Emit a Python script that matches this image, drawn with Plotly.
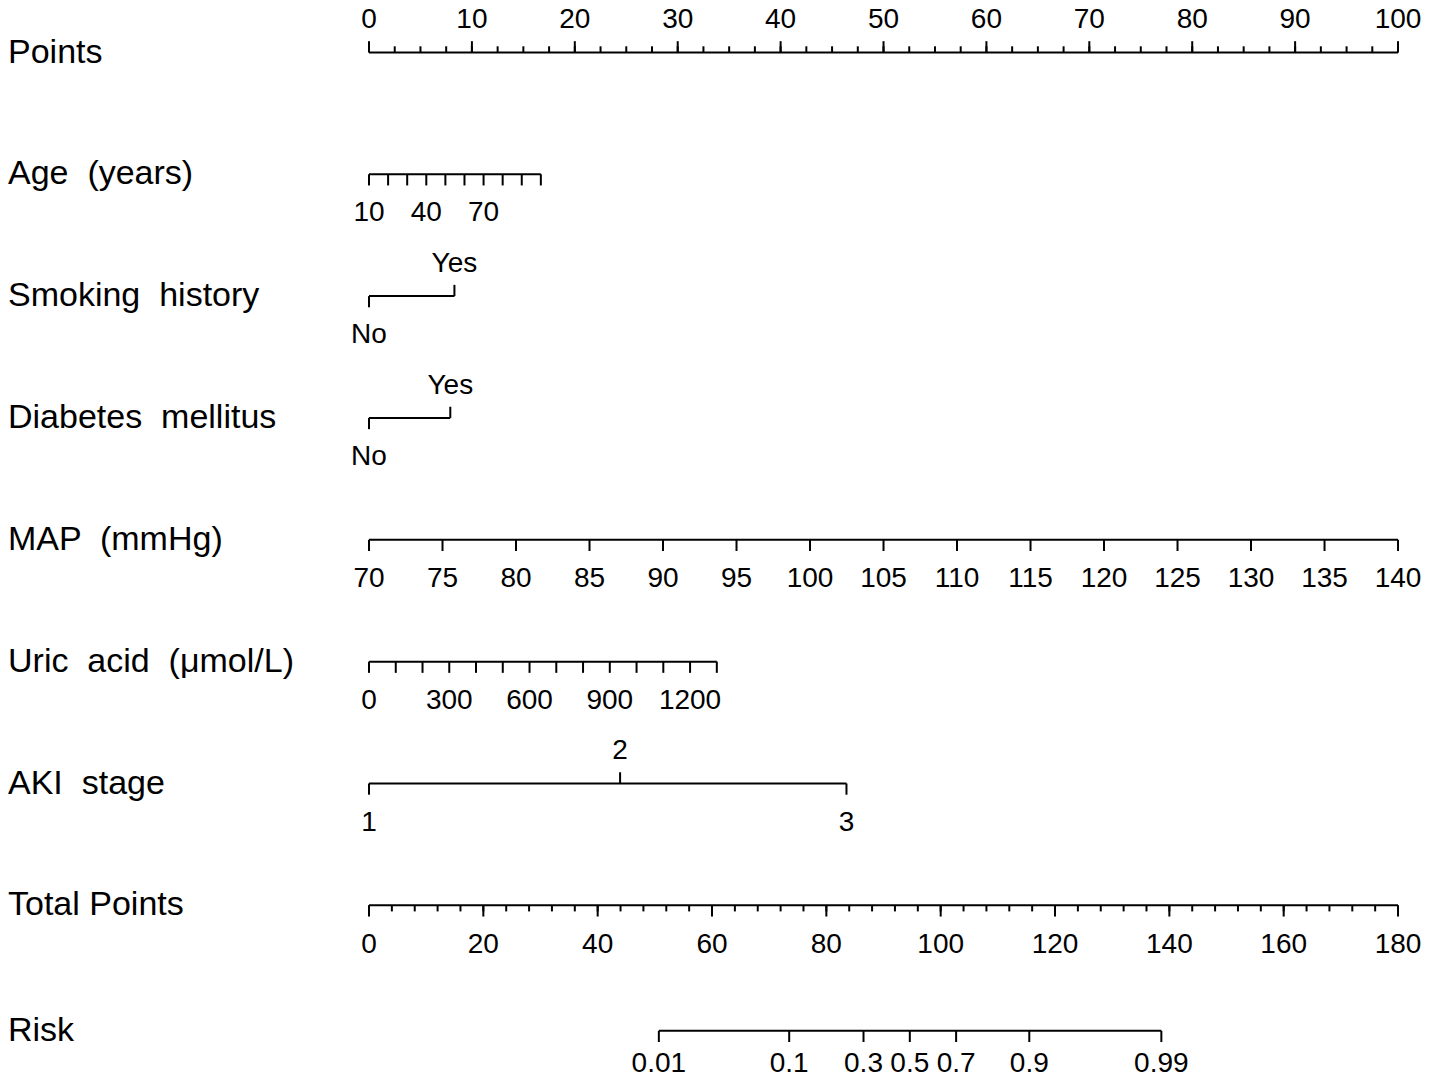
import plotly.graph_objects as go

# ---- data ----
ROW_LABELS = ["Points", "Age  (years)", "Smoking  history", "Diabetes  mellitus",
              "MAP  (mmHg)", "Uric  acid  (μmol/L)", "AKI  stage", "Total Points", "Risk"]

POINTS_TICKS = [0, 10, 20, 30, 40, 50, 60, 70, 80, 90, 100]
POINTS_MINOR_STEP = 2.5

AGE_TICKS = [10, 20, 30, 40, 50, 60, 70, 80, 90, 100]
AGE_LABELED = [10, 40, 70]
AGE_SPAN = [10, 100]
AGE_SPAN_POINTS = [0, 16.7]

SMOKING_LEVELS = ["No", "Yes"]
SMOKING_POINTS = [0, 8.3]

DIABETES_LEVELS = ["No", "Yes"]
DIABETES_POINTS = [0, 7.9]

MAP_TICKS = [70, 75, 80, 85, 90, 95, 100, 105, 110, 115, 120, 125, 130, 135, 140]
MAP_SPAN = [70, 140]
MAP_SPAN_POINTS = [0, 100]

URIC_TICKS = [0, 100, 200, 300, 400, 500, 600, 700, 800, 900, 1000, 1100, 1200, 1300]
URIC_LABELED = [0, 300, 600, 900, 1200]
URIC_SPAN = [0, 1300]
URIC_SPAN_POINTS = [0, 33.8]

AKI_LEVELS = ["1", "2", "3"]
AKI_POINTS = [0, 24.4, 46.4]

TOTAL_TICKS = [0, 20, 40, 60, 80, 100, 120, 140, 160, 180]
TOTAL_MINOR_STEP = 4
TOTAL_SPAN = [0, 180]
TOTAL_SPAN_POINTS = [0, 100]

RISK_LABELS = ["0.01", "0.1", "0.3", "0.5", "0.7", "0.9", "0.99"]
RISK_TOTAL_POINTS = [50.7, 73.5, 86.5, 94.6, 102.7, 115.5, 138.6]

# ---- layout constants ----
W, H = 1429, 1082
P_LO, P_HI = -35.86, 103.01        # points-axis range across the full width
Y_RANGE = [8.45, -0.43]            # rows, top to bottom
ROW_Y = [0, 1, 2, 3, 4, 5, 6, 7, 8.03]
MAJOR = 0.092
MINOR = 0.05
ABOVE = 0.255
BELOW = 0.33
BELOW_RISK = 0.28
FONT = "Liberation Sans, Arial, Helvetica, sans-serif"
TICK_SIZE = 28
LABEL_SIZE = 34
LINE = dict(color="black", width=2)


def axis_range(span, span_points):
    slope = (span[1] - span[0]) / (span_points[1] - span_points[0])
    return [span[0] + (P_LO - span_points[0]) * slope,
            span[0] + (P_HI - span_points[0]) * slope]


def add_line(fig, xref, row, lo, hi):
    fig.add_trace(go.Scatter(x=[lo, hi], y=[row, row], mode="lines", line=LINE,
                             xaxis=xref, hoverinfo="skip", cliponaxis=False))


def add_ticks(fig, xref, row, xs, length, up):
    sx, sy = [], []
    for x in xs:
        sx += [x, x, None]
        sy += [row, row - length if up else row + length, None]
    fig.add_trace(go.Scatter(x=sx, y=sy, mode="lines", line=LINE,
                             xaxis=xref, hoverinfo="skip", cliponaxis=False))


def add_labels(fig, xref, row, xs, texts, up, below=BELOW):
    fig.add_trace(go.Scatter(x=xs, y=[row - ABOVE if up else row + below] * len(xs),
                             mode="text", text=texts, textposition="middle center",
                             textfont=dict(family=FONT, size=TICK_SIZE, color="black"),
                             xaxis=xref, hoverinfo="skip", cliponaxis=False))


def steps(lo, hi, step):
    n = int(round((hi - lo) / step))
    return [lo + i * step for i in range(n + 1)]


fig = go.Figure()

# Points
r = ROW_Y[0]
add_line(fig, "x", r, POINTS_TICKS[0], POINTS_TICKS[-1])
add_ticks(fig, "x", r, steps(POINTS_TICKS[0], POINTS_TICKS[-1], POINTS_MINOR_STEP), MINOR, True)
add_ticks(fig, "x", r, POINTS_TICKS, MAJOR, True)
add_labels(fig, "x", r, POINTS_TICKS, [str(t) for t in POINTS_TICKS], True)

# Age
r = ROW_Y[1]
add_line(fig, "x2", r, AGE_TICKS[0], AGE_TICKS[-1])
add_ticks(fig, "x2", r, AGE_TICKS, MAJOR, False)
add_labels(fig, "x2", r, AGE_LABELED, [str(t) for t in AGE_LABELED], False)


def add_categorical(row, levels, pts):
    add_line(fig, "x", row, pts[0], pts[-1])
    for i, (lev, p) in enumerate(zip(levels, pts)):
        up = i % 2 == 1
        add_ticks(fig, "x", row, [p], MAJOR, up)
        add_labels(fig, "x", row, [p], [lev], up)


add_categorical(ROW_Y[2], SMOKING_LEVELS, SMOKING_POINTS)
add_categorical(ROW_Y[3], DIABETES_LEVELS, DIABETES_POINTS)

# MAP
r = ROW_Y[4]
add_line(fig, "x3", r, MAP_TICKS[0], MAP_TICKS[-1])
add_ticks(fig, "x3", r, MAP_TICKS, MAJOR, False)
add_labels(fig, "x3", r, MAP_TICKS, [str(t) for t in MAP_TICKS], False)

# Uric acid
r = ROW_Y[5]
add_line(fig, "x4", r, URIC_TICKS[0], URIC_TICKS[-1])
add_ticks(fig, "x4", r, URIC_TICKS, MAJOR, False)
add_labels(fig, "x4", r, URIC_LABELED, [str(t) for t in URIC_LABELED], False)

add_categorical(ROW_Y[6], AKI_LEVELS, AKI_POINTS)

# Total points
r = ROW_Y[7]
add_line(fig, "x5", r, TOTAL_TICKS[0], TOTAL_TICKS[-1])
add_ticks(fig, "x5", r, steps(TOTAL_TICKS[0], TOTAL_TICKS[-1], TOTAL_MINOR_STEP), MINOR, False)
add_ticks(fig, "x5", r, TOTAL_TICKS, MAJOR, False)
add_labels(fig, "x5", r, TOTAL_TICKS, [str(t) for t in TOTAL_TICKS], False)

# Risk (placed on the total-points scale)
r = ROW_Y[8]
add_line(fig, "x5", r, RISK_TOTAL_POINTS[0], RISK_TOTAL_POINTS[-1])
add_ticks(fig, "x5", r, RISK_TOTAL_POINTS, MAJOR, False)
add_labels(fig, "x5", r, RISK_TOTAL_POINTS, RISK_LABELS, False, below=BELOW_RISK)

for lab, ry in zip(ROW_LABELS, ROW_Y):
    fig.add_annotation(text=lab, xref="paper", x=6 / W, xanchor="left",
                       yref="y", y=ry - 0.015, yanchor="middle", showarrow=False,
                       font=dict(family=FONT, size=LABEL_SIZE, color="black"))

hidden = dict(visible=False, showgrid=False, zeroline=False, fixedrange=True)
fig.update_layout(
    width=W, height=H,
    margin=dict(l=0, r=0, t=0, b=0),
    paper_bgcolor="white", plot_bgcolor="white",
    showlegend=False,
    xaxis=dict(range=[P_LO, P_HI], **hidden),
    xaxis2=dict(range=axis_range(AGE_SPAN, AGE_SPAN_POINTS), overlaying="x", **hidden),
    xaxis3=dict(range=axis_range(MAP_SPAN, MAP_SPAN_POINTS), overlaying="x", **hidden),
    xaxis4=dict(range=axis_range(URIC_SPAN, URIC_SPAN_POINTS), overlaying="x", **hidden),
    xaxis5=dict(range=axis_range(TOTAL_SPAN, TOTAL_SPAN_POINTS), overlaying="x", **hidden),
    yaxis=dict(range=Y_RANGE, **hidden),
)

fig.write_html("out.html", config={"displayModeBar": False},
               post_script="document.body.style.margin='0';document.body.style.overflow='hidden';")
